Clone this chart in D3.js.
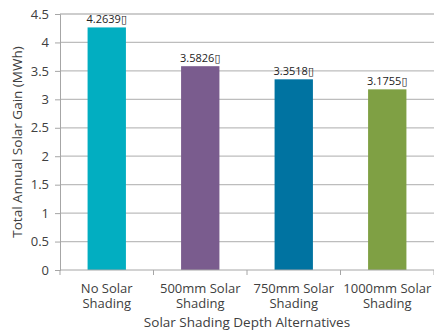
<!DOCTYPE html>
<html>
<head>
<meta charset="utf-8">
<script src="https://cdn.jsdelivr.net/npm/d3@7"></script>
<style>
  body { margin: 0; background: #fff; }
  text { font-family: "Open Sans", "DejaVu Sans", sans-serif; }
</style>
</head>
<body>
<div id="chart"></div>
<script>
// chart data
const categories = ["No Solar|Shading", "500mm Solar|Shading", "750mm Solar|Shading", "1000mm Solar|Shading"];
const values = [4.2639, 3.5826, 3.3518, 3.1755];
const barLabels = ["4.2639\u25AF", "3.5826\u25AF", "3.3518\u25AF", "3.1755\u25AF"];
const colors = ["#02AEC1", "#7A5C8E", "#0073A1", "#7FA044"];
const yTicks = [0, 0.5, 1, 1.5, 2, 2.5, 3, 3.5, 4, 4.5];

function init() {
    let w = 434;
    let h = 333;
    let left = 60, right = 434, top = 14, bottom = 270;

    let svg = d3.select("#chart")
        .append("svg")
        .attr("width", w)
        .attr("height", h);

    let x = d3.scaleBand()
        .domain(categories)
        .range([left, right])
        .paddingInner(0.59)
        .paddingOuter(0.295);

    let y = d3.scaleLinear()
        .domain([0, 4.5])
        .range([bottom, top]);

    // gridlines
    svg.append("g")
        .selectAll("line")
        .data(yTicks.filter(d => d > 0))
        .enter()
        .append("line")
        .attr("x1", left)
        .attr("x2", right)
        .attr("y1", d => y(d))
        .attr("y2", d => y(d))
        .attr("stroke", "#bdbdbd")
        .attr("stroke-width", 1.3);

    // y axis
    let yAxis = svg.append("g")
        .attr("transform", "translate(" + left + ",0)")
        .call(d3.axisLeft(y).tickValues(yTicks).tickSize(5).tickPadding(6).tickFormat(d => d));
    yAxis.select(".domain").attr("stroke", "#a6a6a6");
    yAxis.selectAll(".tick line").attr("stroke", "#a6a6a6");
    yAxis.selectAll(".tick text")
        .attr("font-size", 13)
        .attr("fill", "#404040");

    // bars
    svg.selectAll(".bar")
        .data(values)
        .enter()
        .append("rect")
        .attr("class", "bar")
        .attr("x", (d, i) => x(categories[i]))
        .attr("width", x.bandwidth())
        .attr("y", d => y(d))
        .attr("height", d => bottom - y(d))
        .attr("fill", (d, i) => colors[i]);

    // data labels
    svg.selectAll(".lbl")
        .data(values)
        .enter()
        .append("text")
        .attr("class", "lbl")
        .attr("x", (d, i) => x(categories[i]) + x.bandwidth() / 2)
        .attr("y", d => y(d) - 4)
        .attr("text-anchor", "middle")
        .attr("font-size", 11)
        .attr("fill", "#222")
        .text((d, i) => barLabels[i]);

    // x axis line and ticks
    svg.append("line")
        .attr("x1", left).attr("x2", right)
        .attr("y1", bottom).attr("y2", bottom)
        .attr("stroke", "#a6a6a6");
    let edges = categories.map(c => x(c) - x.step() * x.paddingInner() / 2);
    edges.push(right);
    svg.selectAll(".xt")
        .data(edges)
        .enter()
        .append("line")
        .attr("x1", d => d).attr("x2", d => d)
        .attr("y1", bottom).attr("y2", bottom + 5)
        .attr("stroke", "#a6a6a6");

    // category labels
    let cat = svg.selectAll(".cat")
        .data(categories)
        .enter()
        .append("text")
        .attr("class", "cat")
        .attr("x", d => x(d) + x.bandwidth() / 2)
        .attr("y", 293)
        .attr("text-anchor", "middle")
        .attr("font-size", 13)
        .attr("fill", "#404040");
    cat.selectAll("tspan")
        .data(d => d.split("|"))
        .enter()
        .append("tspan")
        .attr("x", function () { return d3.select(this.parentNode).attr("x"); })
        .attr("dy", (d, i) => i === 0 ? 0 : 15)
        .text(d => d);

    // axis titles
    svg.append("text")
        .attr("x", (left + right) / 2)
        .attr("y", 327)
        .attr("text-anchor", "middle")
        .attr("font-size", 13.5)
        .attr("fill", "#404040")
        .text("Solar Shading Depth Alternatives");

    svg.append("text")
        .attr("transform", "translate(22," + ((top + bottom) / 2) + ") rotate(-90)")
        .attr("text-anchor", "middle")
        .attr("font-size", 13.5)
        .attr("fill", "#404040")
        .text("Total Annual Solar Gain (MWh)");
}

window.onload = init;
</script>
</body>
</html>
